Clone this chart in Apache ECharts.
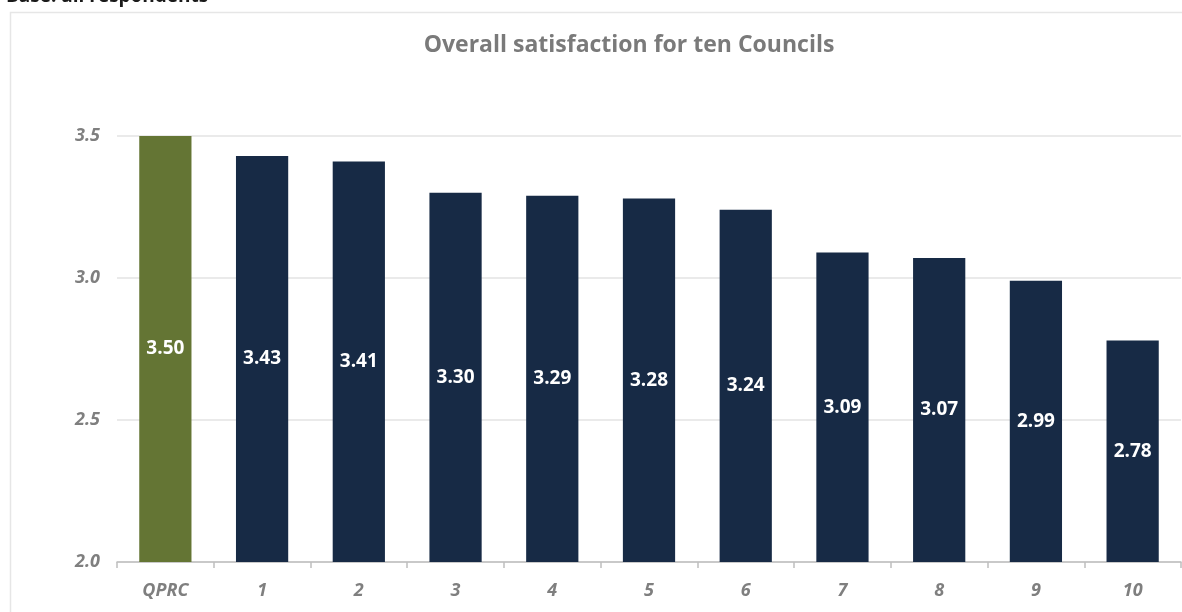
<!DOCTYPE html>
<html><head><meta charset="utf-8">
<script src="https://cdn.jsdelivr.net/npm/echarts@6/dist/echarts.min.js"></script>
<style>html,body{margin:0;padding:0;background:#fff}#c{width:1182px;height:612px}</style>
</head><body><div id="c"></div>
<script>
const categories = ['QPRC','1','2','3','4','5','6','7','8','9','10'];
const values = [3.50,3.43,3.41,3.30,3.29,3.28,3.24,3.09,3.07,2.99,2.78];
const barColors = ['#647534','#172a45','#172a45','#172a45','#172a45','#172a45','#172a45','#172a45','#172a45','#172a45','#172a45'];
const titleText = 'Overall satisfaction for ten Councils';
const baseText = 'Base: all respondents';

const chart = echarts.init(document.getElementById('c'));
chart.setOption({
  animation:false,
  title:{text:titleText,top:29,left:624,textAlign:'center',
    textStyle:{fontFamily:'Open Sans',fontSize:23,fontWeight:'bold',color:'#7a7a7a'}},
  graphic:[
    {type:'rect',shape:{x:10.5,y:12.5,width:1180,height:610},style:{fill:'none',stroke:'#e6e6e6',lineWidth:1.5}},
    {type:'text',left:6,top:-13,style:{text:baseText,font:'bold 19px "Open Sans"',fill:'#1a1a1a'}}
  ],
  grid:{left:117,right:1,top:136,bottom:50},
  xAxis:{type:'category',data:categories,
    axisLine:{lineStyle:{color:'#bfbfbf',width:1.5}},
    axisTick:{show:true,length:6,lineStyle:{color:'#bfbfbf',width:1.5}},
    axisLabel:{margin:20,fontFamily:'Open Sans',fontStyle:'italic',fontWeight:'bold',fontSize:18,color:'#7f7f7f'}},
  yAxis:{type:'value',min:2.0,max:3.5,interval:0.5,
    axisLabel:{margin:17,formatter:v=>v.toFixed(1),fontFamily:'Open Sans',fontStyle:'italic',fontWeight:'bold',fontSize:18,color:'#7f7f7f'},
    axisLine:{show:false},axisTick:{show:false},
    splitLine:{lineStyle:{color:'#e3e3e3',width:1.5}}},
  series:[{type:'bar',barWidth:'54%',
    data:values.map((v,i)=>({value:v,itemStyle:{color:barColors[i]}})),
    label:{show:true,position:'inside',formatter:p=>p.value.toFixed(2),
      fontFamily:'Open Sans',fontWeight:'bold',fontSize:19,color:'#ffffff'}}]
});
</script></body></html>
